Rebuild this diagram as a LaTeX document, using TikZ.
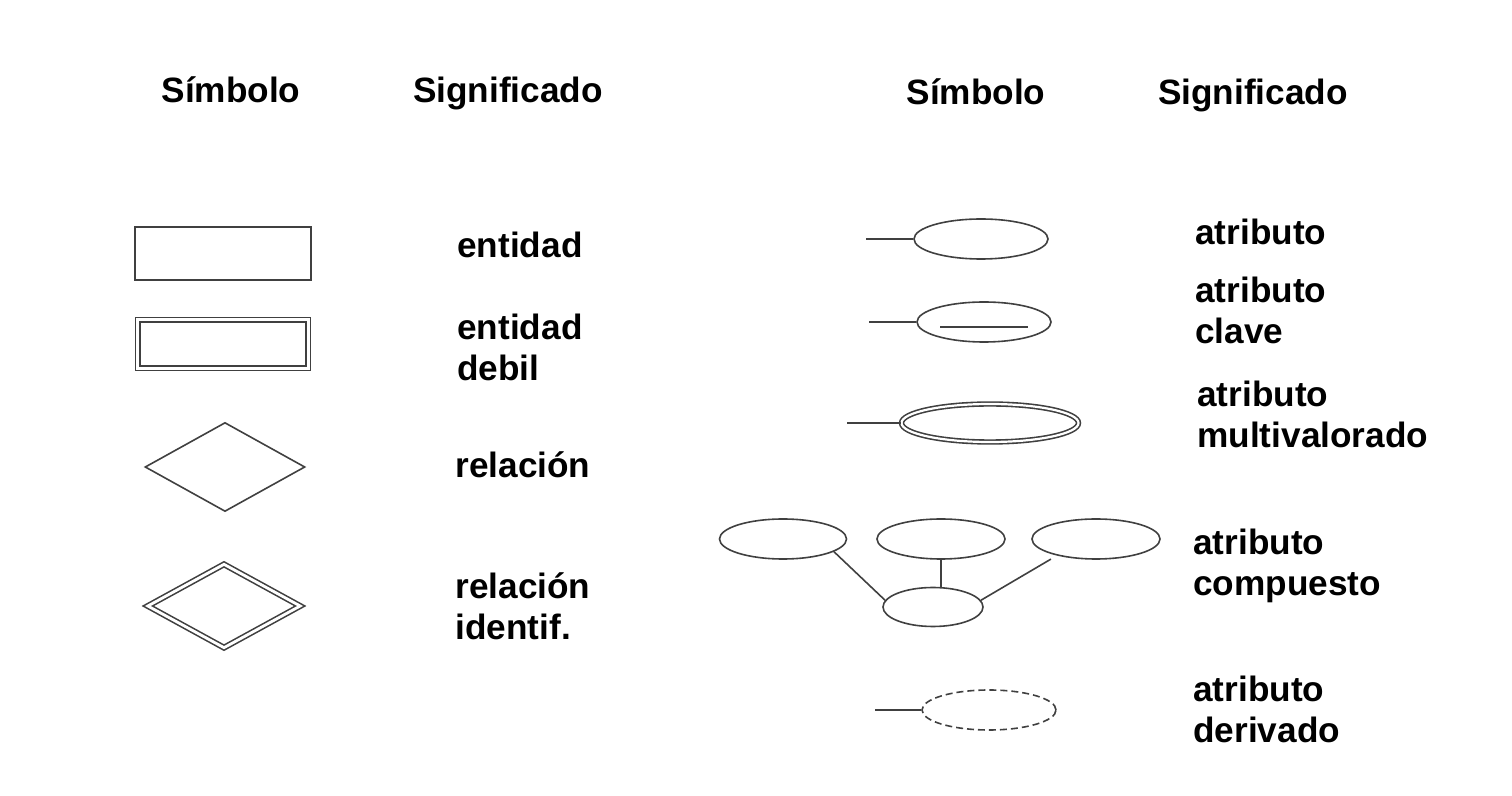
\documentclass[tikz,border=0pt]{standalone}
\usepackage{fontspec}
\setmainfont{Liberation Sans}
\usetikzlibrary{shapes.geometric}
\usetikzlibrary{positioning}

\tikzset{
	linea/.style={draw=black!75, line width=0.8pt},
	texto/.style={font=\fontsize{17.6}{20.5}\selectfont\bfseries, align=left, inner sep=0pt},
	entidad/.style={linea, rectangle, minimum width=88pt, minimum height=26.5pt, inner sep=0pt},
	debil/.style={entidad, double, double distance=1.4pt, minimum width=85.3pt, minimum height=24.3pt},
	relacion/.style={linea, diamond, minimum width=80pt, minimum height=44.5pt, inner sep=0pt},
	identif/.style={relacion, double, double distance=1.4pt, minimum width=76.5pt, minimum height=42pt},
	atrib/.style={linea, ellipse, minimum width=67pt, minimum height=20pt, inner sep=0pt},
	multiv/.style={atrib, double, double distance=1.1pt, minimum width=88.5pt, minimum height=19pt},
	deriv/.style={atrib, dash pattern=on 3.5pt off 2pt}
}

\begin{document}
\begin{tikzpicture}[x=0.5pt, y=-0.5pt]
	
	\useasboundingbox (0,0) rectangle (1512,796);
	
	% cabeceras
	\node[texto, anchor=base] (sim1) at (231,103) {Símbolo};
	\node[texto, anchor=base] (sig1) at (508,103) {Significado};
	\node[texto, anchor=base] (sim2) at (976,105) {Símbolo};
	\node[texto, anchor=base] (sig2) at (1253,105) {Significado};
	
	% columna izquierda
	\node[entidad] (ent) at (223,253.5) {};
	\node[debil] (entd) at (223,344) {};
	\node[relacion] (rel) at (225,467) {};
	\node[identif] (reli) at (224,606) {};
	
	\node[texto, anchor=west] (tent) at (457,245) {entidad};
	\node[texto, anchor=west] (tentd) at (457,347) {entidad\\debil};
	\node[texto, anchor=west] (trel) at (455,465) {relación};
	\node[texto, anchor=west] (treli) at (455,606) {relación\\identif.};
	
	% columna derecha
	\node[atrib] (atr) at (981,239) {};
	\coordinate (atrL) at (866,239);
	\draw[linea] (atrL) -- (atr.west);
	
	\node[atrib] (clave) at (984,322) {};
	\coordinate (claveL) at (869,322);
	\draw[linea] (claveL) -- (clave.west);
	\draw[linea] ([xshift=-22pt,yshift=-2.5pt]clave.center) -- ([xshift=22pt,yshift=-2.5pt]clave.center);
	
	\node[multiv] (mult) at (990,423) {};
	\coordinate (multL) at (847,423);
	\draw[linea] (multL) -- (mult.west);
	
	\node[atrib, minimum width=63.5pt] (izq) at (783,539) {};
	\node[atrib, minimum width=64pt] (medio) at (941,539) {};
	\node[atrib, minimum width=64pt] (der) at (1096,539) {};
	\node[atrib, minimum width=50pt, minimum height=19.5pt] (abajo) at (933,607) {};
	\draw[linea] (izq.-14) -- (abajo.172);
	\draw[linea] (medio.south) -- (abajo.north -| medio.south);
	\draw[linea, shorten <=3.5pt] (der.203) -- (abajo.8);
	
	\node[deriv] (der2) at (989,710) {};
	\coordinate (derL) at (875,710);
	\draw[linea] (derL) -- (der2.west);
	
	\node[texto, anchor=west] (tatr) at (1195,232) {atributo};
	\node[texto, anchor=west] (tclave) at (1195,310) {atributo\\clave};
	\node[texto, anchor=west] (tmult) at (1197,414) {atributo\\multivalorado};
	\node[texto, anchor=west] (tcomp) at (1193,566) {atributo\\compuesto};
	\node[texto, anchor=west] (tder) at (1193,709) {atributo\\derivado};
	
\end{tikzpicture}
\end{document}
